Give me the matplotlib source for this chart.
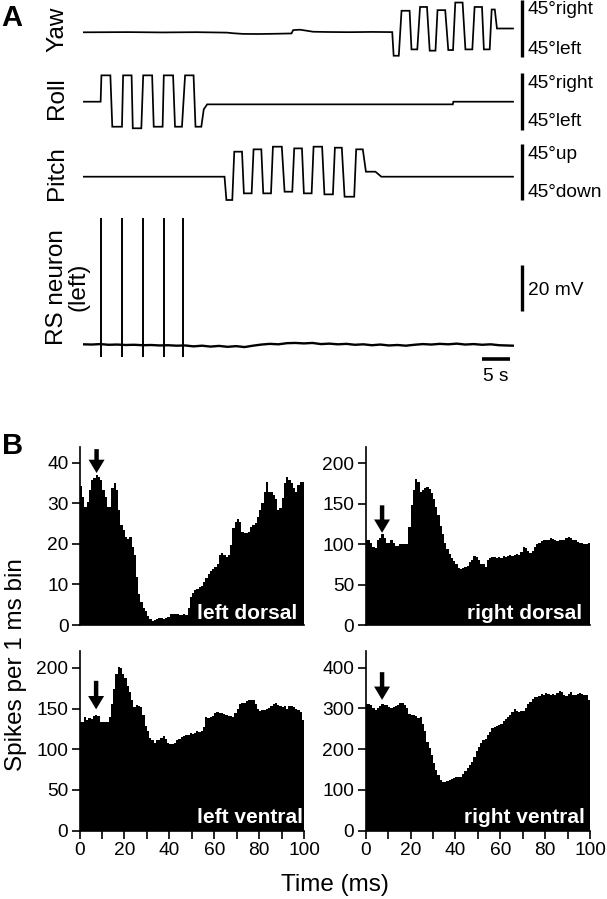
import numpy as np
import matplotlib
matplotlib.use("Agg")
import matplotlib.pyplot as plt

plt.rcParams['font.family'] = ['Liberation Sans', 'DejaVu Sans']

# ---------------- Panel A data (time in s, position in deg, membrane in mV) -------------
yaw_t = [0, 8, 14, 20, 25.4, 26.5, 28.2, 31, 34, 36.8, 37.1, 38.3, 39.5, 40.6, 43.1, 47, 51, 54.6,
         54.85, 55.76, 56.24, 57.67, 58.0, 59.03, 59.51, 60.74, 61.22, 62.24, 62.6, 63.96, 64.5,
         65.34, 65.74, 67.03, 67.53, 68.75, 69.15, 70.46, 70.79, 71.82, 72.17, 72.72, 73.1, 75.94]
yaw_deg = [0, 0.3, -0.2, 0.2, -0.5, -1.5, -2.5, -2.7, -2.3, -1.8, 3.5, 4.1, 2.5, 0.9, 0.5, 0.2, 0.6, 0.3,
           -37, -37, 34, 34, -27, -27, 40, 40, -29, -29, 35, 35, -28, -28, 47, 47, -27, -27, 40, 40,
           -27, -27, 36, 36, 6, 6]

roll_t = [0, 3.08, 3.22, 4.80, 5.14, 6.85, 7.05, 8.55, 8.76, 10.27, 10.6, 12.18, 12.46, 14.03, 14.24,
          15.88, 16.22, 17.45, 18.0, 19.5, 19.84, 20.87, 21.3, 21.9, 65.3, 65.4, 75.94]
roll_deg = [0, 0, 41.6, 41.6, -39.5, -39.5, 41.6, 41.6, -42, -42, 41.6, 41.6, -39.5, -39.5, 41.6,
            41.6, -39.5, -39.5, 41.6, 41.6, -39.5, -39.5, -12, -4.2, -4.2, 0, 0]

pitch_t = [0, 24.97, 25.3, 26.34, 26.69, 28.06, 28.39, 29.76, 30.1, 31.47, 31.81, 33.18, 33.52, 35.09,
           35.58, 36.94, 37.28, 38.65, 38.99, 40.36, 40.7, 42.21, 42.62, 44.12, 44.47, 45.69, 46.18,
           47.88, 48.23, 49.4, 49.95, 51.64, 52.67, 75.94]
pitch_deg = [0, 0, -36.8, -36.8, 39.5, 39.5, -26.3, -26.3, 43.2, 43.2, -26.3, -26.3, 47.4, 47.4,
             -23.7, -23.7, 44.7, 44.7, -26.3, -26.3, 47.4, 47.4, -27.9, -27.9, 45.8, 45.8, -31.6,
             -31.6, 43.2, 43.2, 7.9, 7.9, 0, 0]

rs_t = [0, 1.5, 3, 4.5, 6, 7.5, 9, 10.5, 12, 13.5, 15, 16.5, 18, 19.5, 21, 22.5, 24, 25.5, 27, 28.5,
        30, 31.5, 33, 34.5, 36, 37.5, 39, 40.5, 42, 43.5, 45, 46.5, 48, 49.5, 51, 52.5, 54, 55.5, 57,
        58.5, 60, 61.5, 63, 64.5, 66, 67.5, 69, 70.5, 72, 73.5, 75.9]
rs_mv = [0.3, 0.2, 0.4, 0.1, 0.2, 0.0, 0.1, -0.1, 0.0, -0.2, -0.1, -0.3, -0.2, -0.6, -0.3, -0.7, -0.4,
         -0.8, -0.5, -0.9, -0.3, 0.2, 0.5, 0.3, 0.8, 0.9, 0.7, 0.9, 0.4, 0.6, 0.3, 0.5, 0.1, 0.3, -0.1,
         0.2, -0.2, 0.0, -0.3, 0.1, 0.4, 0.2, 0.5, 0.3, 0.6, 0.2, 0.4, 0.1, 0.3, -0.1, -0.3]
spike_t = [3.2, 6.9, 10.6, 14.2, 17.7]
spike_top_mv = 55.5
spike_bottom_mv = -5.4

# ---------------- Panel B data (spikes per 1 ms bin, bins 0..99 ms) ----------------
left_dorsal = [34.2, 31.5, 29.2, 30.4, 33.3, 35.8, 36.2, 37.1, 36.6, 35.8,
               33.3, 31.7, 29.2, 29.2, 33.7, 35.0, 33.3, 28.4, 24.6, 23.4,
               21.7, 21.3, 21.7, 19.2, 17.2, 11.8, 7.6, 5.6, 4.3, 3.5,
               2.2, 1.4, 1.0, 1.2, 1.4, 1.8, 1.7, 1.4, 1.8, 2.0,
               2.8, 2.8, 2.7, 2.7, 2.5, 2.5, 2.7, 2.5, 4.3, 6.8,
               8.0, 8.6, 8.9, 9.3, 9.7, 10.5, 11.6, 12.6, 13.3, 13.8,
               14.3, 15.1, 17.2, 17.7, 17.2, 16.7, 17.2, 19.7, 24.0, 25.5,
               26.1, 25.5, 23.0, 22.7, 22.7, 23.0, 24.2, 24.8, 25.2, 26.7,
               28.4, 30.0, 32.9, 35.2, 32.9, 32.9, 32.1, 31.0, 28.4, 28.9,
               31.3, 35.0, 36.6, 35.8, 35.0, 33.7, 32.9, 34.6, 35.4, 35.4]
right_dorsal = [105, 105, 102, 96, 95, 105, 107, 112, 108, 102,
                101, 105, 102, 98, 98, 100, 100, 100, 100, 121,
                148, 167, 181, 177, 165, 167, 169, 171, 168, 163,
                156, 146, 136, 123, 113, 102, 94, 88, 83, 79,
                75, 70, 69, 71, 72, 73, 78, 80, 85, 84,
                80, 75, 75, 72, 80, 83, 84, 84, 83, 84,
                83, 85, 84, 85, 86, 85, 86, 88, 86, 90,
                97, 95, 91, 89, 92, 97, 100, 102, 104, 105,
                105, 105, 107, 106, 105, 104, 105, 105, 105, 108,
                109, 107, 105, 105, 103, 102, 102, 100, 100, 101]
left_ventral = [133, 133, 140, 136, 138, 137, 141, 142, 141, 134,
                133, 133, 133, 140, 156, 174, 193, 201, 200, 193,
                187, 178, 170, 160, 152, 154, 153, 152, 142, 129,
                122, 114, 111, 108, 111, 111, 114, 116, 113, 108,
                106, 107, 108, 111, 112, 115, 116, 118, 118, 120,
                119, 120, 122, 121, 123, 127, 140, 138, 140, 141,
                144, 146, 144, 144, 143, 142, 141, 141, 140, 145,
                150, 155, 157, 157, 159, 160, 161, 160, 156, 150,
                147, 148, 148, 150, 151, 153, 155, 157, 154, 153,
                152, 153, 150, 153, 153, 152, 150, 148, 146, 136]
right_ventral = [312, 312, 308, 300, 297, 301, 306, 312, 309, 308,
                 304, 300, 304, 306, 309, 314, 314, 308, 300, 287,
                 283, 283, 282, 277, 279, 263, 244, 218, 202, 185,
                 165, 149, 136, 124, 120, 120, 121, 124, 128, 130,
                 132, 132, 132, 138, 146, 154, 161, 169, 181, 195,
                 206, 214, 222, 226, 234, 242, 251, 255, 257, 260,
                 263, 269, 273, 279, 285, 291, 298, 293, 291, 293,
                 293, 301, 312, 317, 324, 328, 328, 331, 336, 334,
                 338, 336, 334, 336, 334, 339, 342, 341, 334, 331,
                 336, 341, 334, 334, 336, 339, 336, 334, 333, 320]
hist_names = ["left dorsal", "right dorsal", "left ventral", "right ventral"]
y_ticks_list = [[0, 10, 20, 30, 40], [0, 50, 100, 150, 200],
                [0, 50, 100, 150, 200], [0, 100, 200, 300, 400]]
arrow_ms = [7.4, 7.3, 7.4, 7.3]
arrow_tip = [37.5, 114, 149, 321]
arrow_tail = [43.4, 148, 184, 389]
x_ticks = [0, 10, 20, 30, 40, 50, 60, 70, 80, 90, 100]
x_ticklabels = ["0", "", "20", "", "40", "", "60", "", "80", "", "100"]

# ---------------- Figure ----------------
W, H = 607, 899
fig = plt.figure(figsize=(W / 100, H / 100), dpi=100)


def px_axes(x0, x1, y0, y1):
    return fig.add_axes([x0 / W, 1 - y1 / H, (x1 - x0) / W, (y1 - y0) / H])


# Panel A layout (pixels)
X0 = 83.2
PX_PER_S = 5.66
PX_PER_DEG = 0.6333
PX_PER_MV = 2.28
t_max = (W - X0) / PX_PER_S
bar_t = (522 - X0) / PX_PER_S
txt_t = (528 - X0) / PX_PER_S
lw_trace = 1.25
fs_small = 13.8
fs_label = 17.5


def trace_axes(ytop, ybot, base):
    ax = px_axes(X0, W, ytop, ybot)
    ax.set_xlim(0, t_max)
    ax.set_ylim(-(ybot - base) / PX_PER_DEG, (base - ytop) / PX_PER_DEG)
    ax.axis('off')
    return ax


traces = [
    (yaw_t, yaw_deg, 0, 66, 32.3, (-38.4, 51.0), ("45°right", 36.3), ("45°left", -27.9)),
    (roll_t, roll_deg, 68, 136, 101.7, (-44.7, 45.8), ("45°right", 29.0), ("45°left", -31.6)),
    (pitch_t, pitch_deg, 138, 212, 176.7, (-36.8, 51.6), ("45°up", 34.3), ("45°down", -25.3)),
]
for tt, vv, ytop, ybot, base, bar, lab1, lab2 in traces:
    ax = trace_axes(ytop, ybot, base)
    ax.plot(tt, vv, color='black', lw=lw_trace, solid_joinstyle='miter')
    ax.vlines(bar_t, bar[0], bar[1], color='black', lw=2.4)
    ax.text(txt_t, lab1[1], lab1[0], fontsize=fs_small, ha='left', va='center')
    ax.text(txt_t, lab2[1], lab2[0], fontsize=fs_small, ha='left', va='center')

# RS neuron
rs_top, rs_bot, rs_base = 212, 392, 345
ax = px_axes(X0, W, rs_top, rs_bot)
ax.set_xlim(0, t_max)
ax.set_ylim(-(rs_bot - rs_base) / PX_PER_MV, (rs_base - rs_top) / PX_PER_MV)
ax.axis('off')
ax.plot(rs_t, rs_mv, color='black', lw=1.7)
ax.vlines(spike_t, spike_bottom_mv, spike_top_mv, color='black', lw=1.4)
ax.vlines(bar_t, 15, 35, color='black', lw=2.4)
ax.text(txt_t, 24.1, "20 mV", fontsize=fs_small, ha='left', va='center')
ax.hlines(-6.1, 70.46, 75.46, color='black', lw=2.6)
ax.text(72.96, -13.6, "5 s", fontsize=fs_small, ha='center', va='center')

# Panel A labels
for txt, yc in [("Yaw", 29), ("Roll", 98), ("Pitch", 173)]:
    fig.text(57 / W, 1 - yc / H, txt, rotation=90, fontsize=fs_label, ha='center', va='center')
fig.text(68 / W, 1 - 287 / H, "RS neuron\n(left)", rotation=90, fontsize=fs_label,
         ha='center', va='center', multialignment='center', linespacing=0.95)
fig.text(1 / W, 1 - 26.5 / H, "A", fontsize=21, fontweight='bold', ha='left', va='baseline')
fig.text(2 / W, 1 - 453.5 / H, "B", fontsize=21, fontweight='bold', ha='left', va='baseline')

# ---------------- Panel B ----------------
hist_data = [left_dorsal, right_dorsal, left_ventral, right_ventral]
boxes = [(80, 304, 446.7, 625, 44.0), (365.7, 590, 446.7, 625, 220.5),
         (79.5, 304, 650.7, 830.7, 221.0), (365.7, 590, 650.7, 830.7, 441.7)]
text_pos = [(0.972, 0.032), (0.964, 0.032), (0.997, 0.041), (0.976, 0.041)]
edges = np.arange(len(left_dorsal) + 1)
for i, (vals, (x0, x1, y0, y1, ymax)) in enumerate(zip(hist_data, boxes)):
    ax = px_axes(x0, x1, y0, y1)
    ax.stairs(vals, edges, fill=True, color='black', lw=0)
    ax.set_xlim(0, 100)
    ax.set_ylim(0, ymax)
    for s in ['top', 'right']:
        ax.spines[s].set_visible(False)
    for s in ['left', 'bottom']:
        ax.spines[s].set_linewidth(1.2)
    ax.set_yticks(y_ticks_list[i])
    ax.tick_params(axis='both', direction='out', length=5.8, width=1.2,
                   labelsize=fs_small, pad=2.5)
    if i < 2:
        ax.tick_params(axis='x', bottom=False, labelbottom=False)
    else:
        ax.set_xticks(x_ticks)
        ax.set_xticklabels(x_ticklabels)
    ax.text(text_pos[i][0], text_pos[i][1], hist_names[i], transform=ax.transAxes,
            color='white', fontsize=15, fontweight='bold', ha='right', va='baseline')
    ax.annotate('', xy=(arrow_ms[i], arrow_tip[i]), xytext=(arrow_ms[i], arrow_tail[i]),
                arrowprops=dict(facecolor='black', edgecolor='none', width=3.2,
                                headwidth=11.5, headlength=9.6, shrink=0))

fig.text(335 / W, 1 - 885 / H, "Time (ms)", fontsize=fs_label, ha='center', va='center')
fig.text(16 / W, 1 - 665 / H, "Spikes per 1 ms bin", rotation=90, fontsize=fs_label,
         ha='center', va='center')

fig.savefig("out.png", dpi=100)
